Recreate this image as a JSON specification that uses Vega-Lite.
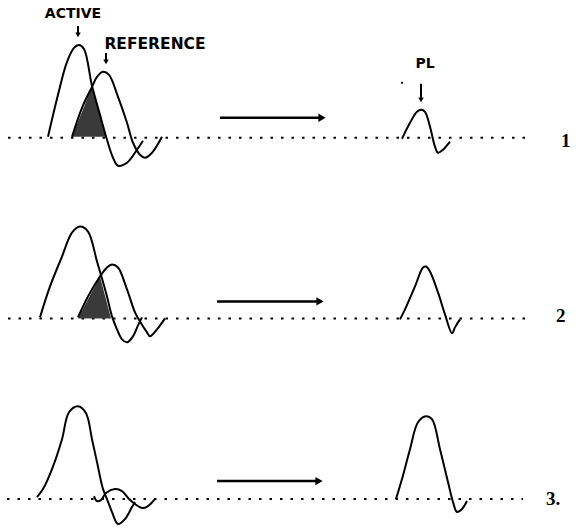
{
  "$schema": "https://vega.github.io/schema/vega-lite/v6.json",
  "width": 579,
  "height": 529,
  "padding": 0,
  "autosize": {"type": "fit", "contains": "padding"},
  "background": "white",
  "config": {"view": {"stroke": null}},
  "datasets": {
    "curves": [
      {"id":"a1","x":48,"y":137},{"id":"a1","x":58,"y":95},{"id":"a1","x":67,"y":62},{"id":"a1","x":74,"y":48},{"id":"a1","x":79,"y":45},{"id":"a1","x":84,"y":49},{"id":"a1","x":92,"y":86},{"id":"a1","x":100,"y":115},{"id":"a1","x":107,"y":140},{"id":"a1","x":113,"y":158},{"id":"a1","x":118,"y":166},{"id":"a1","x":127,"y":163},{"id":"a1","x":137,"y":150},{"id":"a1","x":143,"y":141},
      {"id":"r1","x":72,"y":137},{"id":"r1","x":82,"y":108},{"id":"r1","x":92,"y":87},{"id":"r1","x":97,"y":77},{"id":"r1","x":103,"y":72},{"id":"r1","x":109,"y":75},{"id":"r1","x":118,"y":97},{"id":"r1","x":127,"y":123},{"id":"r1","x":133,"y":143},{"id":"r1","x":140,"y":155},{"id":"r1","x":145,"y":158},{"id":"r1","x":152,"y":153},{"id":"r1","x":162,"y":137},
      {"id":"p1","x":402,"y":139},{"id":"p1","x":410,"y":123},{"id":"p1","x":417,"y":112},{"id":"p1","x":421,"y":110},{"id":"p1","x":425,"y":112},{"id":"p1","x":430,"y":127},{"id":"p1","x":435,"y":147},{"id":"p1","x":438,"y":153},{"id":"p1","x":443,"y":150},{"id":"p1","x":450,"y":142},
      {"id":"a2","x":40,"y":318},{"id":"a2","x":50,"y":287},{"id":"a2","x":62,"y":257},{"id":"a2","x":72,"y":233},{"id":"a2","x":80,"y":227},{"id":"a2","x":88,"y":232},{"id":"a2","x":97,"y":262},{"id":"a2","x":102,"y":279},{"id":"a2","x":107,"y":297},{"id":"a2","x":112,"y":317},{"id":"a2","x":117,"y":330},{"id":"a2","x":122,"y":340},{"id":"a2","x":127,"y":343},{"id":"a2","x":133,"y":337},{"id":"a2","x":138,"y":326},{"id":"a2","x":142,"y":318},
      {"id":"r2","x":78,"y":318},{"id":"r2","x":88,"y":297},{"id":"r2","x":100,"y":277},{"id":"r2","x":107,"y":268},{"id":"r2","x":112,"y":265},{"id":"r2","x":118,"y":268},{"id":"r2","x":127,"y":290},{"id":"r2","x":135,"y":313},{"id":"r2","x":140,"y":322},{"id":"r2","x":147,"y":333},{"id":"r2","x":150,"y":337},{"id":"r2","x":157,"y":330},{"id":"r2","x":165,"y":319},
      {"id":"p2","x":400,"y":320},{"id":"p2","x":405,"y":310},{"id":"p2","x":415,"y":287},{"id":"p2","x":423,"y":268},{"id":"p2","x":426,"y":267},{"id":"p2","x":430,"y":272},{"id":"p2","x":438,"y":293},{"id":"p2","x":445,"y":315},{"id":"p2","x":452,"y":334},{"id":"p2","x":455,"y":328},{"id":"p2","x":460,"y":320},
      {"id":"a3","x":37,"y":498},{"id":"a3","x":43,"y":490},{"id":"a3","x":52,"y":470},{"id":"a3","x":62,"y":440},{"id":"a3","x":69,"y":413},{"id":"a3","x":78,"y":407},{"id":"a3","x":86,"y":414},{"id":"a3","x":92,"y":440},{"id":"a3","x":97,"y":463},{"id":"a3","x":103,"y":490},{"id":"a3","x":107,"y":500},{"id":"a3","x":112,"y":513},{"id":"a3","x":118,"y":525},{"id":"a3","x":125,"y":520},{"id":"a3","x":132,"y":508},{"id":"a3","x":135,"y":503},
      {"id":"r3","x":94,"y":497},{"id":"r3","x":97,"y":502},{"id":"r3","x":101,"y":501},{"id":"r3","x":106,"y":494},{"id":"r3","x":115,"y":490},{"id":"r3","x":122,"y":492},{"id":"r3","x":129,"y":500},{"id":"r3","x":135,"y":505},{"id":"r3","x":142,"y":509},{"id":"r3","x":148,"y":507},{"id":"r3","x":155,"y":500},
      {"id":"p3","x":396,"y":500},{"id":"p3","x":402,"y":480},{"id":"p3","x":410,"y":450},{"id":"p3","x":418,"y":423},{"id":"p3","x":426,"y":417},{"id":"p3","x":432,"y":420},{"id":"p3","x":440,"y":450},{"id":"p3","x":448,"y":483},{"id":"p3","x":453,"y":503},{"id":"p3","x":457,"y":513},{"id":"p3","x":462,"y":510},{"id":"p3","x":467,"y":502}
    ],
    "baselines": [
      {"id":"b1","x":8,"y":138},{"id":"b1","x":527,"y":138},
      {"id":"b2","x":8,"y":319},{"id":"b2","x":527,"y":319},
      {"id":"b3","x":7,"y":500},{"id":"b3","x":523,"y":500}
    ],
    "shade": [
      {"id":"s1","x":72,"y":137,"y0":137},{"id":"s1","x":92,"y":87,"y0":137},{"id":"s1","x":106,"y":137,"y0":137},
      {"id":"s2","x":78,"y":319,"y0":319},{"id":"s2","x":100,"y":277,"y0":319},{"id":"s2","x":111,"y":319,"y0":319}
    ],
    "hshafts": [
      {"x":220,"x2":320,"y":118},{"x":217,"x2":318,"y":302},{"x":217,"x2":317,"y":482}
    ],
    "hheads": [
      {"x":322,"y":118},{"x":320,"y":302},{"x":319,"y":482}
    ],
    "vshafts": [
      {"x":78,"y":26,"y2":33},{"x":106,"y":53,"y2":60},{"x":421,"y":84,"y2":98}
    ],
    "vheads": [
      {"x":78,"y":35},{"x":106,"y":62},{"x":421,"y":100}
    ],
    "dots": [{"x":402,"y":83}],
    "labels": [
      {"t":"ACTIVE","x":73,"y":14,"s":"a"},{"t":"REFERENCE","x":155,"y":44,"s":"b"},{"t":"PL","x":425,"y":64,"s":"a"}
    ],
    "numbers": [
      {"t":"1","x":561,"y":147},{"t":"2","x":556,"y":323},{"t":"3.","x":546,"y":506}
    ]
  },
  "encoding": {
    "x": {"field":"x","type":"quantitative","scale":{"domain":[0,579],"nice":false,"zero":false},"axis":null},
    "y": {"field":"y","type":"quantitative","scale":{"domain":[0,529],"nice":false,"zero":false,"reverse":true},"axis":null}
  },
  "layer": [
    {
      "data": {"name":"baselines"},
      "mark": {"type":"line","color":"black","strokeWidth":2,"strokeDash":[2.5,8]},
      "encoding": {"detail":{"field":"id"}}
    },
    {
      "data": {"name":"shade"},
      "mark": {"type":"area","color":"#3a3a3a","interpolate":"linear"},
      "encoding": {"y2":{"field":"y0"},"detail":{"field":"id"}}
    },
    {
      "data": {"name":"curves"},
      "mark": {"type":"line","color":"black","strokeWidth":2,"interpolate":"catmull-rom"},
      "encoding": {"detail":{"field":"id"}}
    },
    {
      "data": {"name":"hshafts"},
      "mark": {"type":"rule","color":"black","strokeWidth":2.5},
      "encoding": {"x2":{"field":"x2"}}
    },
    {
      "data": {"name":"hheads"},
      "mark": {"type":"point","shape":"triangle-right","filled":true,"color":"black","size":70,"opacity":1}
    },
    {
      "data": {"name":"vshafts"},
      "mark": {"type":"rule","color":"black","strokeWidth":2},
      "encoding": {"y2":{"field":"y2"}}
    },
    {
      "data": {"name":"vheads"},
      "mark": {"type":"point","shape":"triangle-down","filled":true,"color":"black","size":30,"opacity":1}
    },
    {
      "data": {"name":"dots"},
      "mark": {"type":"point","shape":"circle","filled":true,"color":"black","size":5,"opacity":1}
    },
    {
      "data": {"name":"labels"},
      "transform": [{"filter":"datum.s === 'a'"}],
      "mark": {"type":"text","font":"DejaVu Sans","fontWeight":"bold","fontSize":14,"align":"center","baseline":"middle","color":"black"},
      "encoding": {"text":{"field":"t"}}
    },
    {
      "data": {"name":"labels"},
      "transform": [{"filter":"datum.s === 'b'"}],
      "mark": {"type":"text","font":"DejaVu Sans","fontWeight":"bold","fontSize":15.5,"align":"center","baseline":"middle","color":"black"},
      "encoding": {"text":{"field":"t"}}
    },
    {
      "data": {"name":"numbers"},
      "mark": {"type":"text","font":"Liberation Serif","fontWeight":"bold","fontSize":19,"align":"left","baseline":"alphabetic","color":"black"},
      "encoding": {"text":{"field":"t"}}
    }
  ]
}
